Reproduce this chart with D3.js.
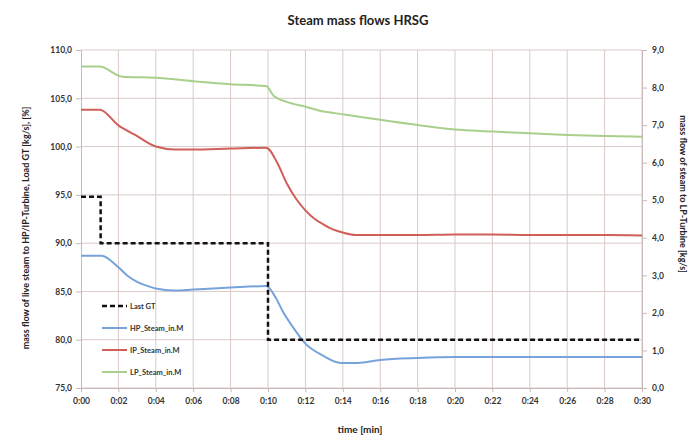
<!DOCTYPE html>
<html>
<head>
<meta charset="utf-8">
<script src="https://cdn.jsdelivr.net/npm/d3@7"></script>
<style>
  body { margin: 0; background: #fff; }
  svg text { font-family: Lato, "Open Sans", sans-serif; fill: #333; }
  .tick text { font-size: 8.5px; font-weight: bold; }
  .legend-text { font-size: 7.5px; font-weight: bold; }
</style>
</head>
<body>
<svg id="chart" width="692" height="443"></svg>
<script>
// time in minutes
const timeTicks = [0, 2, 4, 6, 8, 10, 12, 14, 16, 18, 20, 22, 24, 26, 28, 30];
const leftTicks = [75, 80, 85, 90, 95, 100, 105, 110];
const rightTicks = [0, 1, 2, 3, 4, 5, 6, 7, 8, 9];

// Load GT [%] (step)
const gtTime = [0, 1.05, 10, 30];
const gtLoad = [94.8, 90, 80, 80];

// HP steam [kg/s], left axis
const hpTime = [0, 1.1, 2, 2.5, 3, 3.5, 4, 5, 6, 8, 9.9, 10.4, 10.8, 11.3, 12, 12.9, 13.9, 14.8, 16, 18, 20, 22, 24, 26, 28, 30];
const hpVal = [88.7, 88.7, 87.5, 86.6, 86.0, 85.6, 85.3, 85.1, 85.2, 85.4, 85.55, 84.4, 82.9, 81.4, 79.6, 78.4, 77.6, 77.6, 77.9, 78.1, 78.2, 78.2, 78.2, 78.2, 78.2, 78.2];

// IP steam [kg/s], left axis
const ipTime = [0, 1.0, 2.0, 2.9, 4.0, 5.0, 6, 8, 9.9, 10.5, 11, 11.5, 12, 12.5, 13, 13.5, 14, 14.7, 16, 18, 20, 22, 24, 26, 28, 30];
const ipVal = [103.8, 103.8, 102.2, 101.2, 100.0, 99.7, 99.7, 99.8, 99.88, 98.3, 96.2, 94.6, 93.4, 92.5, 91.9, 91.4, 91.1, 90.85, 90.85, 90.85, 90.9, 90.9, 90.85, 90.85, 90.85, 90.8];

// LP steam [kg/s], right axis
const lpTime = [0, 1.0, 2.2, 4, 6, 8, 9.9, 10.3, 11, 12, 13, 14, 16, 18, 20, 22, 24, 26, 28, 30];
const lpVal = [8.56, 8.56, 8.29, 8.26, 8.17, 8.09, 8.04, 7.78, 7.62, 7.49, 7.36, 7.29, 7.14, 7.0, 6.88, 6.83, 6.78, 6.74, 6.71, 6.69];

const svg = d3.select("#chart");
const plotLeft = 81, plotRight = 642, plotTop = 50, plotBottom = 388;

const x = d3.scaleLinear().domain([0, 30]).range([plotLeft, plotRight]);
const yL = d3.scaleLinear().domain([75, 110]).range([plotBottom, plotTop]);
const yR = d3.scaleLinear().domain([0, 9]).range([plotBottom, plotTop]);

const gridColor = "#dbc9c9";

// grid
svg.append("g").selectAll("line").data(leftTicks).enter().append("line")
  .attr("x1", plotLeft).attr("x2", plotRight)
  .attr("y1", d => yL(d)).attr("y2", d => yL(d))
  .attr("stroke", gridColor).attr("stroke-width", 1);
svg.append("g").selectAll("line").data(timeTicks.slice(1)).enter().append("line")
  .attr("x1", d => x(d)).attr("x2", d => x(d))
  .attr("y1", plotTop).attr("y2", plotBottom)
  .attr("stroke", gridColor).attr("stroke-width", 1);

const fmt1 = d3.format(".1f");
const comma = d => fmt1(d).replace(".", ",");
const timeFmt = d => "0:" + String(d).padStart(2, "0");

// axes
const xAxis = svg.append("g").attr("transform", "translate(0," + plotBottom + ")")
  .call(d3.axisBottom(x).tickValues(timeTicks).tickFormat(timeFmt).tickSize(4).tickPadding(6));
const yAxisL = svg.append("g").attr("transform", "translate(" + plotLeft + ",0)")
  .call(d3.axisLeft(yL).tickValues(leftTicks).tickFormat(comma).tickSize(5).tickPadding(4));
const yAxisR = svg.append("g").attr("transform", "translate(" + plotRight + ",0)")
  .call(d3.axisRight(yR).tickValues(rightTicks).tickFormat(comma).tickSize(5).tickPadding(5));
[xAxis, yAxisL, yAxisR].forEach(a => {
  a.select(".domain").attr("stroke", "#c8b8b8");
  a.selectAll(".tick line").attr("stroke", "#c8b8b8");
  a.selectAll(".tick text").attr("fill", "#333");
});

// lines
const lineL = d3.line().x(d => x(d[0])).y(d => yL(d[1])).curve(d3.curveMonotoneX);
const lineR = d3.line().x(d => x(d[0])).y(d => yR(d[1])).curve(d3.curveMonotoneX);
const gtLine = d3.line().x(d => x(d[0])).y(d => yL(d[1])).curve(d3.curveStepAfter);

const series = [
  { name: "LP_Steam_in.M", data: d3.zip(lpTime, lpVal), gen: lineR, color: "#a9cf8c" },
  { name: "IP_Steam_in.M", data: d3.zip(ipTime, ipVal), gen: lineL, color: "#cf5f58" },
  { name: "HP_Steam_in.M", data: d3.zip(hpTime, hpVal), gen: lineL, color: "#77a3dc" }
];
series.forEach(s => {
  svg.append("path").datum(s.data)
    .attr("fill", "none").attr("stroke", s.color).attr("stroke-width", 2)
    .attr("d", s.gen);
});
svg.append("path").datum(d3.zip(gtTime, gtLoad))
  .attr("fill", "none").attr("stroke", "#111").attr("stroke-width", 2.5)
  .attr("stroke-dasharray", "5,3")
  .attr("d", gtLine);

// legend
const legendItems = [
  { name: "Last GT", color: "#111", dash: "5,3", w: 2.5 },
  { name: "HP_Steam_in.M", color: "#77a3dc", dash: null, w: 2 },
  { name: "IP_Steam_in.M", color: "#cf5f58", dash: null, w: 2 },
  { name: "LP_Steam_in.M", color: "#a9cf8c", dash: null, w: 2 }
];
const legend = svg.append("g").attr("transform", "translate(102,306)");
legend.selectAll("line").data(legendItems).enter().append("line")
  .attr("x1", 0).attr("x2", 25)
  .attr("y1", (d, i) => i * 22).attr("y2", (d, i) => i * 22)
  .attr("stroke", d => d.color).attr("stroke-width", d => d.w)
  .attr("stroke-dasharray", d => d.dash);
legend.selectAll("text").data(legendItems).enter().append("text")
  .attr("class", "legend-text")
  .attr("x", 28).attr("y", (d, i) => i * 22 + 2.5)
  .text(d => d.name);

// titles
svg.append("text").attr("x", 358).attr("y", 25).attr("text-anchor", "middle")
  .style("font-size", "13px").style("font-weight", "bold").style("fill", "#222")
  .text("Steam mass flows HRSG");
svg.append("text").attr("x", 360).attr("y", 433).attr("text-anchor", "middle")
  .style("font-size", "10px").style("font-weight", "bold").style("fill", "#222")
  .text("time [min]");
svg.append("text").attr("transform", "translate(29,228) rotate(-90)").attr("text-anchor", "middle")
  .style("font-size", "9px").style("font-weight", "bold").style("fill", "#222")
  .text("mass flow of live steam to HP/IP-Turbine, Load GT [kg/s], [%]");
svg.append("text").attr("transform", "translate(680,194) rotate(90)").attr("text-anchor", "middle")
  .style("font-size", "9px").style("font-weight", "bold").style("fill", "#222")
  .text("mass flow of steam to LP-Turbine [kg/s]");
</script>
</body>
</html>
